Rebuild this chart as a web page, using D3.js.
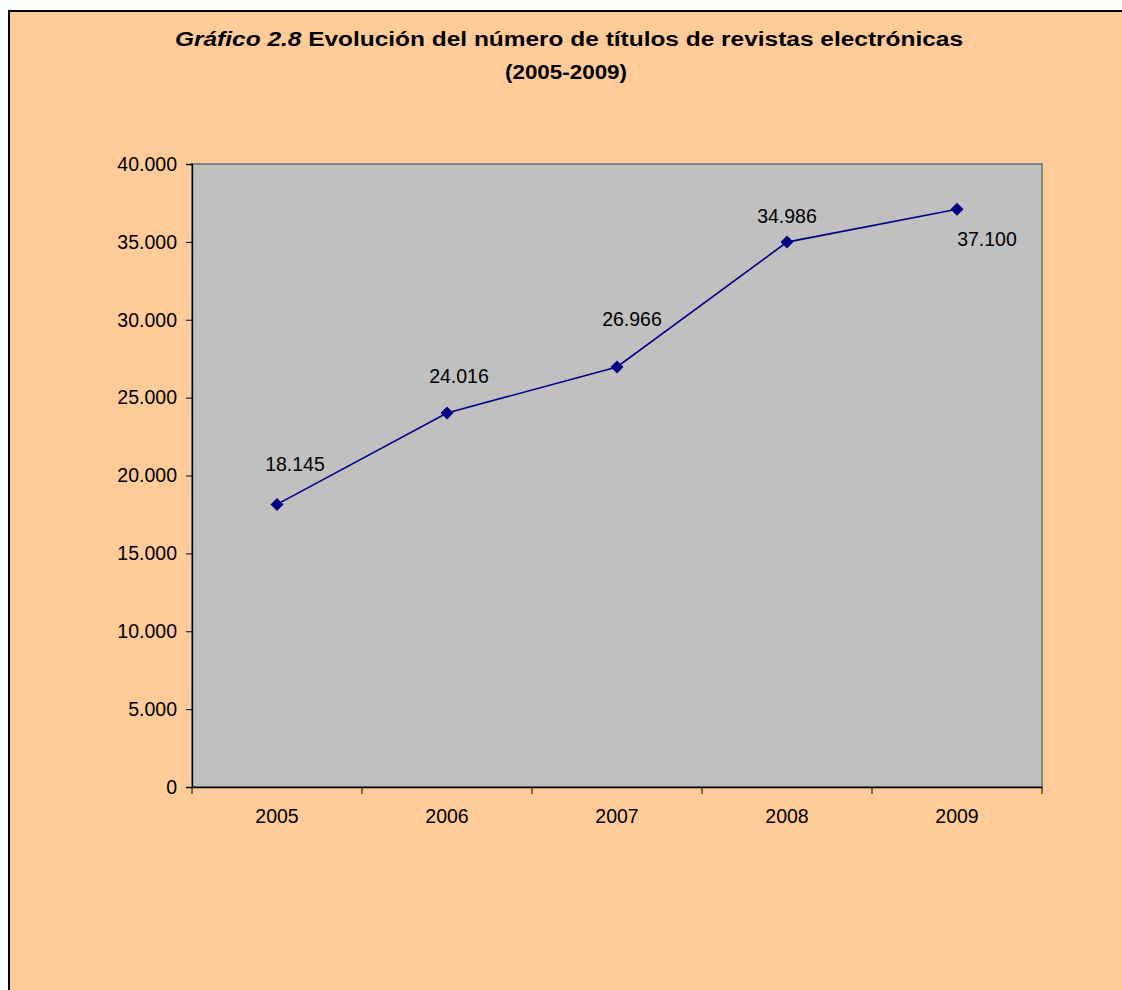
<!DOCTYPE html>
<html><head><meta charset="utf-8">
<script src="https://cdn.jsdelivr.net/npm/d3@7"></script>
<style>html,body{margin:0;background:#fff;overflow:hidden}svg{display:block}text{font-family:"Liberation Sans",Arial,sans-serif}</style>
</head><body><svg id="c" width="1122" height="990"></svg>
<script>
const years = ["2005","2006","2007","2008","2009"];
const values = [18145, 24016, 26966, 34986, 37100];
const yTicks = [0,5000,10000,15000,20000,25000,30000,35000,40000];
const labelDx = [18, 12, 15, 0, 30];
const labelDy = [-33, -30, -41, -19, 37];

const svg = d3.select("#c");
svg.append("rect").attr("x",0).attr("y",0).attr("width",1122).attr("height",990).attr("fill","#ffffff");
svg.append("rect").attr("x",8).attr("y",10).attr("width",1114).attr("height",980).attr("fill","#FFCC99");
svg.append("path").attr("d","M9,990V11H1122").attr("fill","none").attr("stroke","#000").attr("stroke-width",2);

const fmt = v => d3.format(",")(v).replace(/,/g,".");
const x = d3.scaleBand().domain(years).range([192,1042]);
const y = d3.scaleLinear().domain([0,40000]).range([787,164]);

// plot area
svg.append("rect").attr("x",192).attr("y",164).attr("width",850).attr("height",623)
  .attr("fill","#C0C0C0").attr("stroke","#808080").attr("stroke-width",2);

// title
const t = svg.append("text").attr("x",569).attr("y",46).attr("text-anchor","middle")
  .attr("font-size",20).attr("font-weight","bold")
  .attr("textLength",788).attr("lengthAdjust","spacingAndGlyphs");
t.append("tspan").attr("font-style","italic").text("Gráfico 2.8");
t.append("tspan").text(" Evolución del número de títulos de revistas electrónicas");
svg.append("text").attr("x",566).attr("y",79).attr("text-anchor","middle")
  .attr("font-size",20).attr("font-weight","bold")
  .attr("textLength",122).attr("lengthAdjust","spacingAndGlyphs").text("(2005-2009)");

// y axis
const ya = svg.append("g").attr("transform","translate(192,0)")
  .call(d3.axisLeft(y).tickValues(yTicks).tickFormat(fmt).tickSize(6).tickPadding(9));
ya.select(".domain").attr("stroke","#000").attr("stroke-width",1.3);
ya.selectAll("line").attr("stroke","#000");
ya.selectAll("text").attr("font-size",19.5).attr("fill","#000").attr("font-family","Liberation Sans, Arial, sans-serif");

// x axis
const xa = svg.append("g").attr("transform","translate(0,787)")
  .call(d3.axisBottom(x).tickSize(0).tickPadding(22));
xa.select(".domain").attr("stroke","#000").attr("stroke-width",1.3);
xa.selectAll("text").attr("font-size",19.5).attr("fill","#000").attr("font-family","Liberation Sans, Arial, sans-serif");
const bounds = years.map(d => x(d)).concat([x.range()[1]]);
svg.append("g").selectAll("line").data(bounds).join("line")
  .attr("x1",d=>d).attr("x2",d=>d).attr("y1",787).attr("y2",794).attr("stroke","#000");

// line
const cx = d => x(d) + x.bandwidth()/2;
svg.append("path").datum(values.map((v,i)=>[years[i],v]))
  .attr("fill","none").attr("stroke","#000080").attr("stroke-width",1.6)
  .attr("d", d3.line().x(d=>cx(d[0])).y(d=>y(d[1])));
svg.append("g").selectAll("path").data(values).join("path")
  .attr("d", "M0,-6.5L6.5,0L0,6.5L-6.5,0Z")
  .attr("transform",(d,i)=>`translate(${cx(years[i])},${y(d)})`)
  .attr("fill","#000080");
svg.append("g").selectAll("text").data(values).join("text")
  .attr("x",(d,i)=>cx(years[i])+labelDx[i]).attr("y",(d,i)=>y(d)+labelDy[i])
  .attr("text-anchor","middle").attr("font-size",19.5).attr("fill","#000").text(fmt);
</script></body></html>
